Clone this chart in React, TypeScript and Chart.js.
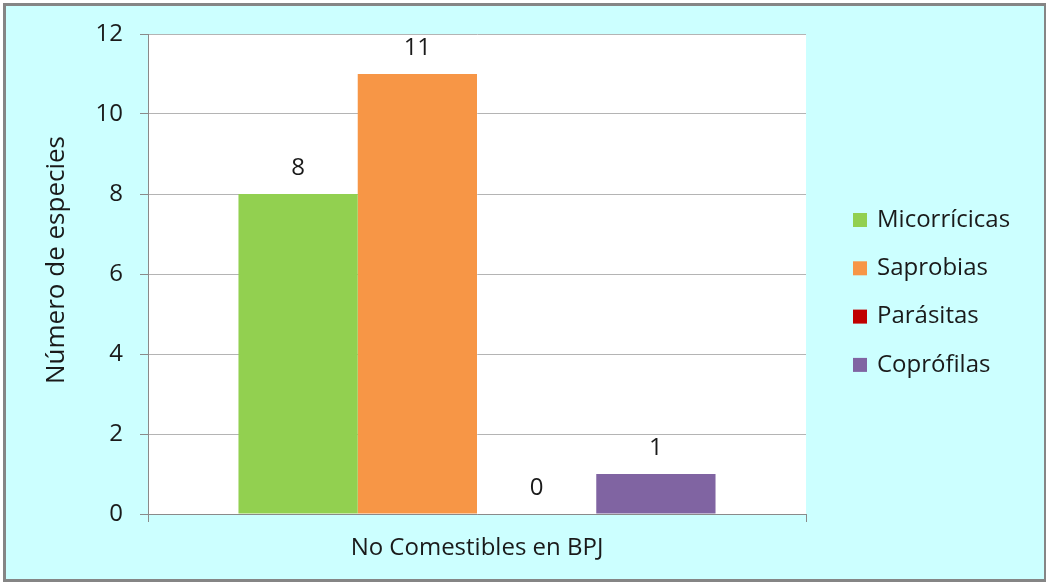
import React, { useEffect, useRef } from "react";
import { Chart, registerables } from "chart.js";

Chart.register(...registerables);

const categories = ["No Comestibles en BPJ"];
const seriesNames = ["Micorrícicas", "Saprobias", "Parásitas", "Coprófilas"];
const seriesValues = [[8], [11], [0], [1]];
const seriesColors = ["#92D050", "#F79646", "#C00000", "#8064A2"];
const yTicks = [0, 2, 4, 6, 8, 10, 12];
const yTitle = "Número de especies";

const FONT = "'Open Sans', sans-serif";
const TEXT = "#1a1a1a";
const SIZE = 24;

// Panel: grey frame, pale cyan fill, white plot area
const backgroundPlugin = {
  id: "panelBackground",
  beforeDraw(chart: any) {
    const { ctx, width, height, chartArea } = chart;
    ctx.save();
    ctx.fillStyle = "#ffffff";
    ctx.fillRect(0, 0, width, height);
    ctx.fillStyle = "#858585";
    ctx.fillRect(3, 3, width - 3, height - 3);
    ctx.fillStyle = "#CCFFFF";
    ctx.fillRect(6, 6, width - 8, height - 9);
    ctx.fillStyle = "#ffffff";
    ctx.fillRect(chartArea.left, chartArea.top, chartArea.right - chartArea.left, chartArea.bottom - chartArea.top);
    ctx.restore();
  },
};

// Rotated y-axis title, sitting slightly above the plot's middle
const yTitlePlugin = {
  id: "yTitle",
  afterDraw(chart: any) {
    const { ctx, chartArea } = chart;
    ctx.save();
    ctx.translate(57, (chartArea.top + chartArea.bottom) / 2 - 14);
    ctx.rotate(-Math.PI / 2);
    ctx.font = `26px ${FONT}`;
    ctx.fillStyle = TEXT;
    ctx.textAlign = "center";
    ctx.textBaseline = "middle";
    ctx.fillText(yTitle, 0, 0);
    ctx.restore();
  },
};

// Value labels above each bar, placed from the bar elements
const valueLabelPlugin = {
  id: "valueLabels",
  afterDatasetsDraw(chart: any) {
    const { ctx } = chart;
    ctx.save();
    ctx.font = `${SIZE}px ${FONT}`;
    ctx.fillStyle = TEXT;
    ctx.textAlign = "center";
    ctx.textBaseline = "middle";
    chart.data.datasets.forEach((ds: any, i: number) => {
      const meta = chart.getDatasetMeta(i);
      meta.data.forEach((bar: any, j: number) => {
        ctx.fillText(String(ds.data[j]), bar.x, bar.y - 26);
      });
    });
    ctx.restore();
  },
};

// Legend to the right of the plot
const sideLegendPlugin = {
  id: "sideLegend",
  afterDraw(chart: any) {
    const { ctx } = chart;
    ctx.save();
    ctx.font = `${SIZE}px ${FONT}`;
    ctx.textBaseline = "middle";
    ctx.textAlign = "left";
    chart.data.datasets.forEach((ds: any, i: number) => {
      const cy = 220 + i * 48.3;
      ctx.fillStyle = ds.backgroundColor;
      ctx.fillRect(853, cy - 7, 14, 14);
      ctx.fillStyle = TEXT;
      ctx.fillText(ds.label, 877, cy);
    });
    ctx.restore();
  },
};

export default function App() {
  const canvasRef = useRef<HTMLCanvasElement | null>(null);

  useEffect(() => {
    const canvas = canvasRef.current;
    if (!canvas) return;
    const chart = new Chart(canvas, {
      type: "bar",
      data: {
        labels: categories,
        datasets: seriesNames.map((name, i) => ({
          label: name,
          data: seriesValues[i],
          backgroundColor: seriesColors[i],
          borderWidth: 0,
          barPercentage: 1,
          categoryPercentage: 0.725,
        })),
      },
      options: {
        animation: false,
        responsive: false,
        maintainAspectRatio: false,
        layout: { padding: { left: 0, top: 34, right: 240, bottom: 0 } },
        plugins: {
          legend: { display: false },
          tooltip: { enabled: false },
        },
        scales: {
          x: {
            offset: true,
            grid: {
              display: true,
              offset: true,
              drawOnChartArea: false,
              drawTicks: true,
              tickLength: 8,
              color: "#8a8a8a",
            },
            border: { color: "#8a8a8a", width: 1 },
            ticks: {
              color: TEXT,
              font: { family: FONT, size: SIZE },
              padding: 12,
              maxRotation: 0,
            },
            afterFit(scale: any) {
              scale.height = 68;
            },
          },
          y: {
            min: 0,
            max: 12,
            afterBuildTicks(scale: any) {
              scale.ticks = yTicks.map((v) => ({ value: v }));
            },
            grid: {
              color: "#b4b4b4",
              tickLength: 8,
              tickColor: "#8a8a8a",
            },
            border: { color: "#8a8a8a", width: 1 },
            ticks: {
              color: TEXT,
              font: { family: FONT, size: SIZE },
              padding: 17,
            },
            title: { display: false },
            afterFit(scale: any) {
              scale.width = 148;
            },
          },
        },
      },
      plugins: [backgroundPlugin, valueLabelPlugin, yTitlePlugin, sideLegendPlugin],
    });
    return () => chart.destroy();
  }, []);

  return (
    <div style={{ position: "fixed", left: 0, top: 0, width: 1046, height: 582 }}>
      <canvas ref={canvasRef} width={1046} height={582} style={{ display: "block" }} />
    </div>
  );
}
